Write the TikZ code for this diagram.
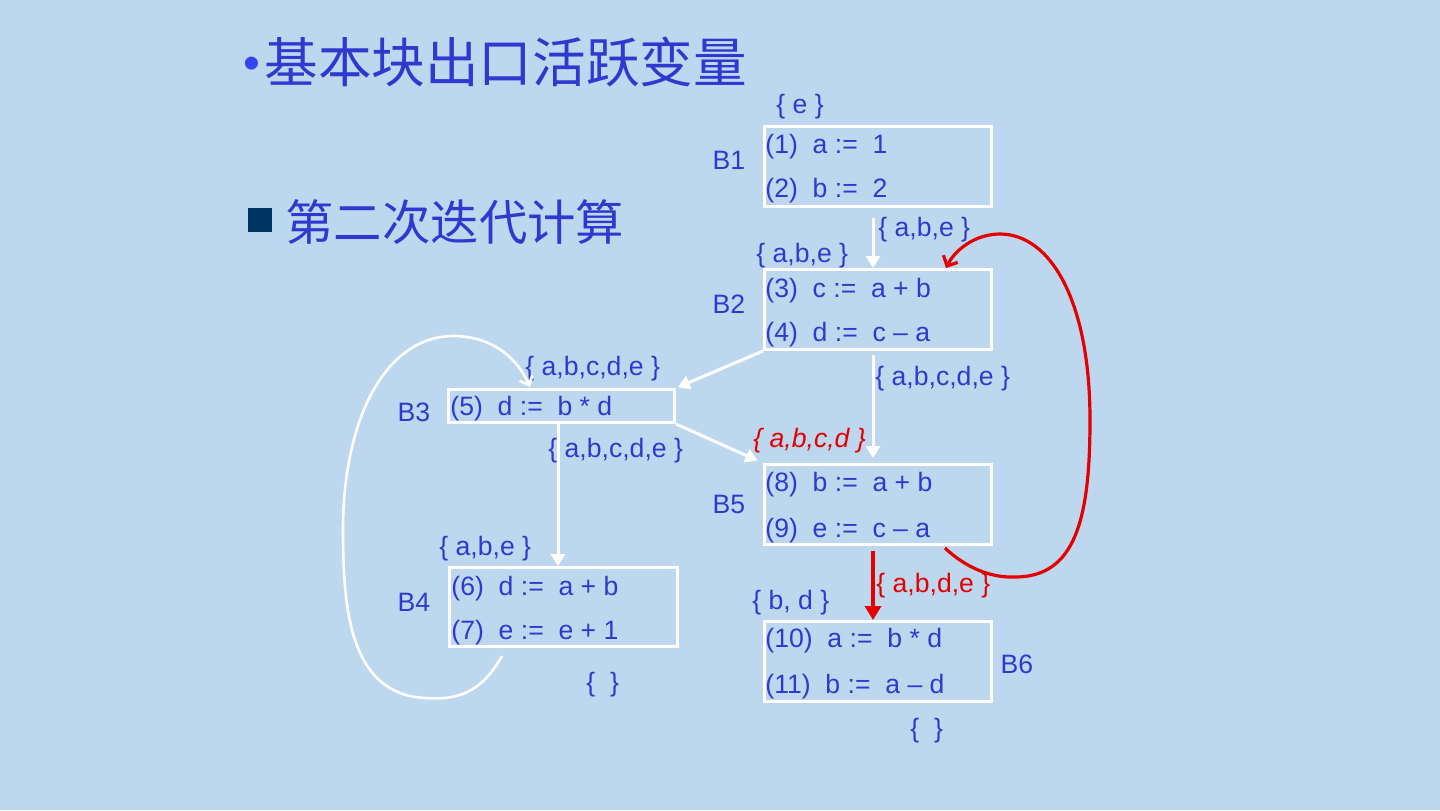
\documentclass[tikz,border=0pt]{standalone}
\usepackage{fontspec}
\setmainfont{Liberation Sans}
\newfontfamily\cjk{Noto Sans CJK SC}
\usetikzlibrary{arrows.meta}
\definecolor{bg}{RGB}{189,215,238}
\definecolor{txt}{RGB}{46,58,207}
\definecolor{redc}{RGB}{228,0,0}
\definecolor{navy}{RGB}{0,51,102}
\begin{document}
\begin{tikzpicture}[x=0.5pt,y=-0.5pt,
  every node/.style={font=\fontsize{13.3pt}{15pt}\selectfont, text=txt, inner sep=0pt},
  blk/.style={draw=white, line width=1.5pt, anchor=north west, minimum width=113.5pt, minimum height=40pt},
  code/.style={anchor=west, yshift=-1.2pt},
  lbl/.style={anchor=center, yshift=-1pt},
  setl/.style={anchor=west, yshift=-1.2pt},
  redset/.style={anchor=west, text=redc, yshift=-1.2pt},
  warrow/.style={draw=white, line width=1.5pt, -{Triangle[width=7pt,length=6pt]}},
  wcurve/.style={draw=white, line width=1.3pt, -{Straight Barb[width=7pt,length=4pt]}},
  rarrow/.style={draw=redc, line width=2pt, -{Triangle[width=8pt,length=7pt]}},
  rcurve/.style={draw=redc, line width=1.6pt, -{Straight Barb[width=8pt,length=4pt]}}]
\fill[bg] (0,0) rectangle (1440,810);
\useasboundingbox (0,0) rectangle (1440,810);

% titles
\node[anchor=west, font=\fontsize{24pt}{28pt}\selectfont, text={rgb,255:red,50;green,70;blue,235}] (bul) at (243,68) {•};
\node[anchor=west, font=\cjk\fontsize{26.8pt}{30pt}\selectfont] (t1) at (264,62) {基本块出口活跃变量};
\fill[navy] (248,208) rectangle (272,232);
\node[anchor=west, font=\cjk\fontsize{24.2pt}{28pt}\selectfont] (t2) at (285,222) {第二次迭代计算};

% blocks
\node[blk] (B1) at (763,125) {};
\node[blk] (B2) at (763,268) {};
\node[blk, minimum height=16.5pt, minimum width=113pt] (B3) at (447,388) {};
\node[blk, minimum height=39.5pt, minimum width=114pt] (B4) at (448,566) {};
\node[blk] (B5) at (763,463) {};
\node[blk] (B6) at (763,620) {};

% code
\node[code] (s1) at (765,144) {(1)\ \ a :=\ \ 1};
\node[code] (s2) at (765,188) {(2)\ \ b :=\ \ 2};
\node[code] (s3) at (765,288) {(3)\ \ c :=\ \ a + b};
\node[code] (s4) at (765,332) {(4)\ \ d :=\ \ c – a};
\node[code] (s5) at (450,406) {(5)\ \ d :=\ \ b * d};
\node[code] (s6) at (451,586) {(6)\ \ d :=\ \ a + b};
\node[code] (s7) at (451,630) {(7)\ \ e :=\ \ e + 1};
\node[code] (s8) at (765,482) {(8)\ \ b :=\ \ a + b};
\node[code] (s9) at (765,528) {(9)\ \ e :=\ \ c – a};
\node[code] (s10) at (765,638) {(10)\ \ a :=\ \ b * d};
\node[code] (s11) at (765,684) {(11)\ \ b :=\ \ a – d};

% block labels
\node[lbl] (L1) at (729,158) {B1};
\node[lbl] (L2) at (729,302) {B2};
\node[lbl] (L3) at (414,410) {B3};
\node[lbl] (L4) at (414,600) {B4};
\node[lbl] (L5) at (729,502) {B5};
\node[lbl] (L6) at (1017,662) {B6};

% sets
\node[setl] (e1) at (776,104) {\{ e \}};
\node[setl] (e2) at (878,227) {\{ a,b,e \}};
\node[setl] (e3) at (756,253) {\{ a,b,e \}};
\node[setl] (e4) at (875,376) {\{ a,b,c,d,e \}};
\node[setl] (e5) at (525,366) {\{ a,b,c,d,e \}};
\node[setl] (e6) at (548,448) {\{ a,b,c,d,e \}};
\node[redset, font=\fontsize{13.3pt}{15pt}\selectfont\itshape] (e7) at (753,438) {\{ a,b,c,d \}};
\node[setl] (e8) at (439,546) {\{ a,b,e \}};
\node[setl] (e9) at (586,682) {\{\ \ \}};
\node[redset] (e10) at (876,583) {\{ a,b,d,e \}};
\node[setl] (e11) at (752,600) {\{ b, d \}};
\node[setl] (e12) at (910,728) {\{\ \ \}};

% connectors
\coordinate (cx) at (873,0);
\coordinate (cx3) at (558,0);
\draw[warrow, shorten <=5pt] (B1.south -| cx) -- (B2.north -| cx);
\draw[warrow, shorten <=2pt, shorten >=2.5pt] (B2.south -| cx) -- (B5.north -| cx);
\draw[warrow, shorten >=1pt] (B2.south west) -- (B3.north east);
\draw[warrow, shorten >=3pt] (B3.south east) -- (B5.north west);
\draw[warrow] (B3.south -| cx3) -- (B4.north -| cx3);
\draw[rarrow, shorten <=2.5pt] (B5.south -| cx) -- (B6.north -| cx);

\coordinate (l1) at (502,656);
\coordinate (l2) at (530,387);
\draw[wcurve] (l1) .. controls (480,695) and (455,700) .. (425,698)
  .. controls (350,694) and (343,610) .. (343,530)
  .. controls (343,420) and (385,335) .. (455,336)
  .. controls (495,337) and (518,360) .. (l2);

\coordinate (r1) at (945,548);
\coordinate (r2) at (946,268);
\draw[rcurve] (r1) .. controls (965,567) and (990,578) .. (1015,577)
  .. controls (1075,577) and (1090,520) .. (1090,420)
  .. controls (1090,300) and (1050,234) .. (1000,234)
  .. controls (975,234) and (955,250) .. (r2);
\end{tikzpicture}
\end{document}
